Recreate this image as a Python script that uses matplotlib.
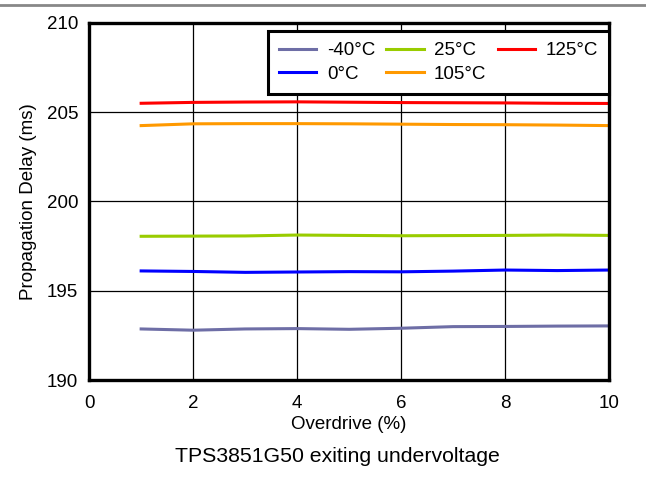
import numpy as np
import matplotlib
matplotlib.use("Agg")
import matplotlib.pyplot as plt
from matplotlib.lines import Line2D

plt.rcParams['font.family'] = ['Liberation Sans', 'DejaVu Sans']

overdrive = np.arange(1, 11)
temps = ['-40°C', '0°C', '25°C', '105°C', '125°C']
colors = ['#6E6EA6', '#0000FF', '#99CC00', '#FF9900', '#FF0000']
delay_m40 = [192.86, 192.79, 192.86, 192.88, 192.84, 192.90, 192.99, 193.00, 193.02, 193.03]
delay_0 = [196.11, 196.08, 196.03, 196.05, 196.07, 196.06, 196.10, 196.16, 196.13, 196.16]
delay_25 = [198.05, 198.06, 198.07, 198.12, 198.10, 198.08, 198.09, 198.10, 198.12, 198.10]
delay_105 = [204.25, 204.35, 204.36, 204.36, 204.35, 204.33, 204.31, 204.30, 204.28, 204.25]
delay_125 = [205.50, 205.55, 205.57, 205.58, 205.56, 205.54, 205.53, 205.52, 205.50, 205.49]
series = [delay_m40, delay_0, delay_25, delay_105, delay_125]

fig = plt.figure(figsize=(6.46, 4.78), dpi=100)
ax = fig.add_axes([0.138, 0.205, 0.805, 0.747])

for vals, lab, c in zip(series, temps, colors):
    ax.plot(overdrive, vals, color=c, lw=2.2, label=lab)

ax.set_xlim(0, 10)
ax.set_ylim(190, 210)
ax.set_xticks(np.arange(0, 11, 2))
ax.set_yticks(np.arange(190, 211, 5))
ax.grid(True, color='black', lw=0.9)
ax.set_axisbelow(True)
ax.tick_params(length=0, labelsize=13.5)
ax.tick_params(axis='y', pad=8)
ax.tick_params(axis='x', pad=11)
for s in ax.spines.values():
    s.set_linewidth(2.4)
ax.set_xlabel('Overdrive (%)', fontsize=13.5, labelpad=3)
ax.set_ylabel('Propagation Delay (ms)', fontsize=13.5, labelpad=7)

leg = ax.legend(loc='upper right', bbox_to_anchor=(1.0, 0.978), ncol=3,
                fontsize=13.5, frameon=True, fancybox=False, framealpha=1,
                edgecolor='black', handlelength=2.0, handletextpad=0.55,
                columnspacing=0.6, borderpad=0.6, labelspacing=0.35,
                borderaxespad=0)
leg.get_frame().set_linewidth(2.2)

fig.text(0.523, 0.046, 'TPS3851G50 exiting undervoltage', ha='center', va='center', fontsize=15.3)
fig.add_artist(Line2D([0, 1], [0.99, 0.99], transform=fig.transFigure, color='#888888', lw=2))

fig.savefig('out.png', dpi=100)
